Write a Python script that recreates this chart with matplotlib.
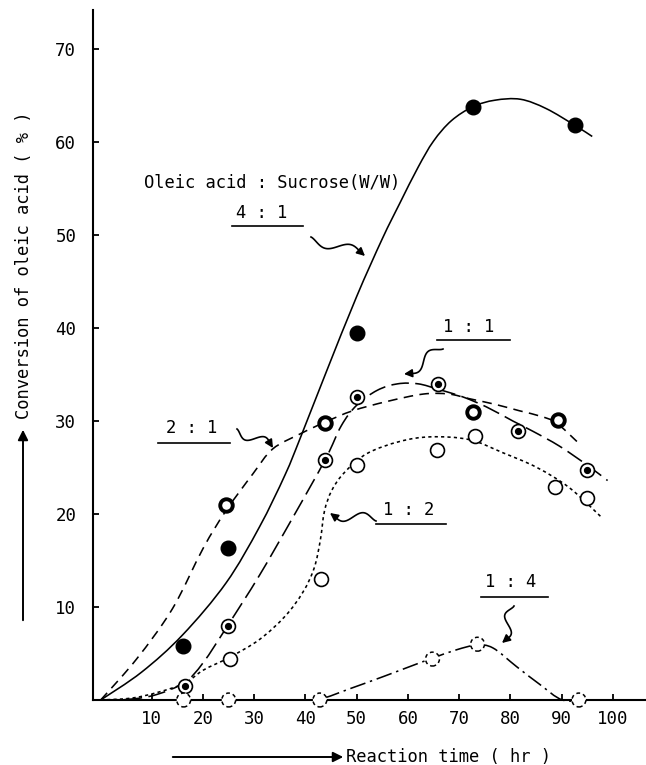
import numpy as np
import matplotlib
matplotlib.use('Agg')
import matplotlib.pyplot as plt
from matplotlib.path import Path
from matplotlib.patches import PathPatch, FancyArrowPatch

# reference canvas, pixels
W, H = 646, 765
MONO = 'DejaVu Sans Mono'

# measured points (reaction time hr, conversion %)
time_41 = [16, 24.8, 50, 72.7, 92.6]
conv_41 = [5.8, 16.3, 39.5, 63.8, 61.8]
time_21 = [24.4, 43.8, 72.7, 89.3]
conv_21 = [21.0, 29.8, 31.0, 30.1]
time_11 = [16.4, 24.8, 43.9, 50, 65.8, 81.5, 95]
conv_11 = [1.5, 8.0, 25.8, 32.6, 34.0, 28.9, 24.7]
time_12 = [25.3, 43.0, 50, 65.6, 73.2, 88.7, 94.9]
conv_12 = [4.4, 13.0, 25.3, 26.9, 28.4, 22.9, 21.7]
time_14 = [16.2, 25, 42.8, 64.8, 73.6, 93.4]
conv_14 = [0, 0, 0, 4.4, 6.0, 0]

# hand drawn fit curves
fit_t_41 = [0, 8, 16, 24.5, 31, 36, 39, 44, 50, 55, 58.4, 62, 65, 68.5, 72.7,
            77, 82, 87, 92.6, 96]
fit_c_41 = [0, 3.0, 7.0, 12.6, 18.6, 24.2, 28.2, 35.2, 43.4, 49.6, 53.4, 57.3, 60.1,
            62.3, 63.8, 64.5, 64.6, 63.6, 61.8, 60.6]
fit_t_21 = [0, 7, 14, 20, 24.4, 29.7, 33.6, 38.9, 43.9, 49.2, 55.9, 63, 68, 72,
            77, 81.8, 86, 89, 93]
fit_c_21 = [0, 4.4, 9.8, 16.3, 20.3, 24.3, 27, 28.6, 29.9, 31.1, 32.1, 32.9,
            32.9, 32.4, 31.8, 31.1, 30.5, 29.8, 27.8]
fit_t_11 = [0, 6, 11, 16.4, 20, 24.8, 31, 37.5, 43.9, 47, 50, 54, 58, 62, 66,
            70.7, 75.4, 80.5, 84.4, 89.6, 94.9, 99]
fit_c_11 = [0, 0.1, 0.6, 1.9, 4, 8, 13.4, 19.6, 25.9, 29.5, 31.7, 33.3, 34, 34,
            33.4, 32.6, 31.5, 30, 28.9, 27.3, 25.3, 23.6]
fit_t_12 = [0, 6, 11, 16.4, 20, 25.2, 31, 36, 39.5, 41.7, 42.9, 43.7, 45.1, 47.5, 52,
            58.4, 64.5, 72, 78.5, 85.2, 91.6, 97.9]
fit_c_12 = [0, 0.2, 0.8, 1.8, 3.2, 4.6, 6.5, 9, 11.6, 14.2, 17.2, 20.3, 22.5, 24.4, 26.5,
            27.8, 28.3, 28, 26.6, 25, 22.8, 19.6]
fit_t_14 = [0, 20, 38, 42.8, 48.6, 55.1, 60.4, 64.8, 69.5, 73.4, 76.6, 81.2, 85.7,
            90.2, 95, 100]
fit_c_14 = [0, 0, 0, 0.1, 1.2, 2.5, 3.6, 4.5, 5.4, 5.9, 5.6, 3.6, 1.7, 0, 0, 0]

# ratio labels: text, centre, underline x-range / y, squiggle start -> arrow tip (ref pixels)
ratio_labels = [
    ('4 : 1', (262, 213), (232, 303, 226), (311, 237), (365, 256)),
    ('1 : 1', (469, 327), (437, 510, 340), (443, 349), (404, 374)),
    ('2 : 1', (192, 428), (158, 230, 443), (237, 429), (273, 448)),
    ('1 : 2', (409, 510), (376, 446, 524), (376, 521), (330, 513)),
    ('1 : 4', (511, 582), (481, 548, 597), (514, 606), (502, 643)),
]


def fpos(x, y):
    # reference pixel (y down) -> figure fraction
    return x / W, 1 - y / H


def smooth_curve(ax, xs, ys, **kw):
    # hand-drawn look: pass the knots through cubic bezier pieces
    p = np.column_stack([xs, ys]).astype(float)
    ext = np.vstack([p[0], p, p[-1]])
    verts = [p[0]]
    codes = [Path.MOVETO]
    for i in range(1, len(ext) - 2):
        c1 = ext[i] + (ext[i + 1] - ext[i - 1]) / 6
        c2 = ext[i + 1] - (ext[i + 2] - ext[i]) / 6
        verts += [c1, c2, ext[i + 1]]
        codes += [Path.CURVE4] * 3
    ax.add_patch(PathPatch(Path(verts, codes), fill=False, edgecolor='k',
                           clip_on=False, capstyle='butt', **kw))


def squiggle(fig, p0, p1, amp=7.0, waves=1.0):
    a = np.array(p0, float)
    b = np.array(p1, float)
    d = b - a
    n = np.array([-d[1], d[0]]) / np.hypot(*d)
    s = np.linspace(0, 1, 80)[:, None]
    pts = a + s * d + amp * np.sin(2 * np.pi * waves * s) * np.sin(np.pi * s) ** 0.5 * n
    xs, ys = fpos(pts[:, 0], pts[:, 1])
    fig.add_artist(plt.Line2D(xs[:-6], ys[:-6], color='k', lw=1.2, transform=fig.transFigure))
    fig.add_artist(FancyArrowPatch(
        (xs[-10], ys[-10]), (xs[-1], ys[-1]), transform=fig.transFigure,
        arrowstyle='-|>', mutation_scale=12, color='k', lw=1.2, shrinkA=0, shrinkB=0))


fig = plt.figure(figsize=(W / 100, H / 100), dpi=100)
ax = fig.add_axes([93 / W, 65 / H, (W - 93) / W, 690 / H])
ax.set_xlim(-1.5, 106.5)
ax.set_ylim(0, 74.2)

lw = 1.15
smooth_curve(ax, fit_t_41, fit_c_41, lw=lw, ls='-')
smooth_curve(ax, fit_t_21, fit_c_21, lw=lw, ls=(0, (6, 4)))
smooth_curve(ax, fit_t_11, fit_c_11, lw=lw, ls=(0, (11, 4)))
smooth_curve(ax, fit_t_12, fit_c_12, lw=lw, ls=(0, (2, 2)))
smooth_curve(ax, fit_t_14, fit_c_14, lw=lw, ls=(0, (10, 3, 1.5, 3)))

ax.plot(time_41, conv_41, 'o', ms=10.5, mfc='k', mec='k', clip_on=False, zorder=5)
ax.plot(time_21, conv_21, 'o', ms=9, mfc='white', mec='k', mew=2.8, clip_on=False, zorder=5)
ax.plot(time_11, conv_11, 'o', ms=10, mfc='white', mec='k', mew=1.2, clip_on=False, zorder=5)
ax.plot(time_11, conv_11, 'o', ms=4.2, mfc='k', mec='k', clip_on=False, zorder=6)
ax.plot(time_12, conv_12, 'o', ms=10, mfc='white', mec='k', mew=1.2, clip_on=False, zorder=5)
ax.scatter(time_14, conv_14, s=100, facecolors='white', edgecolors='k', linewidths=1.1,
           linestyles=(0, (2.5, 2)), clip_on=False, zorder=5)

ax.set_xticks(range(10, 101, 10))
ax.set_yticks(range(10, 71, 10))
for side in ('top', 'right'):
    ax.spines[side].set_visible(False)
for side in ('left', 'bottom'):
    ax.spines[side].set_linewidth(1.5)
ax.tick_params(direction='in', length=4, width=1.3, labelsize=12.5)
ax.tick_params(axis='x', pad=7)
ax.tick_params(axis='y', pad=12)
for lab in ax.get_xticklabels() + ax.get_yticklabels():
    lab.set_family(MONO)

# axis titles with arrows, as in the original
fig.text(*fpos(24, 265), 'Conversion of oleic acid ( % )', rotation=90,
         ha='center', va='center', family=MONO, fontsize=12.3)
fig.add_artist(FancyArrowPatch(
    fpos(23, 623), fpos(23, 427), transform=fig.transFigure,
    arrowstyle='-|>', mutation_scale=15, color='k', lw=1.4))
fig.text(*fpos(346, 757), 'Reaction time ( hr )', ha='left', va='center',
         family=MONO, fontsize=12.3)
fig.add_artist(FancyArrowPatch(
    fpos(170, 757), fpos(346, 757), transform=fig.transFigure,
    arrowstyle='-|>', mutation_scale=15, color='k', lw=1.4))

fig.text(*fpos(272, 183), 'Oleic acid : Sucrose(W/W)', ha='center', va='center',
         family=MONO, fontsize=12.3)
for txt, c, ul, s0, s1 in ratio_labels:
    fig.text(*fpos(*c), txt, ha='center', va='center', family=MONO, fontsize=12.3)
    x0, y0 = fpos(ul[0], ul[2])
    x1, _ = fpos(ul[1], ul[2])
    fig.add_artist(plt.Line2D([x0, x1], [y0, y0], color='k', lw=1.2, transform=fig.transFigure))
    squiggle(fig, s0, s1)

fig.savefig('out.png', dpi=100)
